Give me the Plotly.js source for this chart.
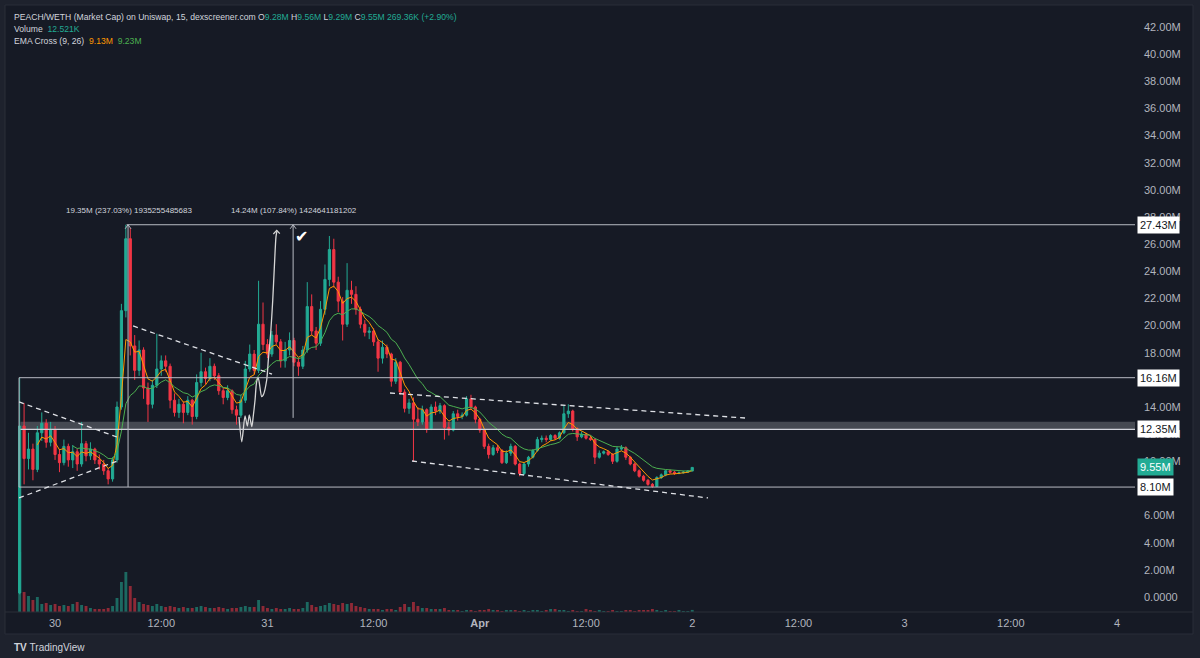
<!DOCTYPE html>
<html><head><meta charset="utf-8">
<script src="https://cdn.plot.ly/plotly-3.0.1.min.js"></script>
<style>html,body{margin:0;padding:0;background:#1e222d;}#chart{width:1200px;height:658px;}</style>
</head><body><div id="chart"></div>
<script>
// ---- data (30-minute candles, values in millions of USD market cap) ----
const startTime = Date.UTC(2025, 2, 29, 20, 0);
const intervalMinutes = 30;

const opens = [0.3,12.6,10.2,10.9,9.4,12.1,12.8,11.4,12.3,10.5,
9.9,11.1,10.1,10.7,9.8,11.3,10.4,10.9,10.1,9.8,
9.3,8.7,10.1,14.0,21.1,26.4,18.5,16.7,18.2,15.4,
14.2,15.6,16.8,17.4,17.0,14.5,13.6,14.2,13.6,14.5,
13.3,15.8,16.6,16.1,17.0,16.3,15.2,14.7,15.2,13.8,
13.4,14.5,16.8,17.9,16.7,20.1,18.6,17.9,19.3,18.8,
17.4,18.2,18.9,17.3,17.0,18.2,21.4,19.6,18.7,21.2,
23.4,25.6,23.2,21.8,20.1,22.6,22.3,21.2,20.1,19.5,
19.6,18.8,17.6,18.4,17.9,15.9,17.3,15.1,13.9,14.3,
13.1,12.9,13.8,12.4,14.0,13.7,14.1,12.5,12.3,13.5,
13.3,13.4,14.6,14.0,13.1,12.3,11.1,10.5,11.0,10.8,
9.9,10.6,11.1,9.8,9.1,9.8,10.3,10.8,11.6,11.7,
11.6,11.9,11.7,12.1,13.5,13.7,12.4,11.8,12.0,11.7,
11.6,10.3,10.6,10.7,10.5,10.0,10.9,11.0,10.3,9.8,
9.3,8.9,8.6,8.3,8.15,8.8,9.0,9.3,9.2,9.1,
9.15,9.2,9.28];
const highs = [16.16,14.3,12.1,11.3,12.6,13.6,13.1,12.9,12.6,10.9,
11.6,11.3,11.2,10.9,12.9,11.5,11.4,11.0,10.5,10.1,
9.5,10.3,14.4,21.6,27.43,27.2,19.3,18.9,18.4,15.8,
16.0,19.4,17.8,17.8,17.2,15.0,14.6,14.4,14.8,14.6,
16.4,18.0,16.9,17.6,17.2,16.5,15.4,15.6,15.3,14.1,
14.9,17.4,18.6,18.2,23.3,21.7,19.0,19.6,20.1,19.0,
18.8,19.5,19.1,17.6,18.5,23.2,22.3,19.9,21.8,24.5,
26.6,26.4,23.6,22.1,24.6,23.3,22.9,21.4,20.4,19.9,
19.8,19.0,18.9,18.6,18.0,17.6,17.4,15.3,14.6,14.7,
14.0,14.1,13.9,14.2,14.4,14.3,14.2,12.9,13.7,13.8,
13.6,14.8,14.9,14.1,13.2,12.4,11.3,11.2,11.2,10.9,
10.8,11.3,11.2,9.9,9.9,10.4,10.9,11.8,11.9,11.9,
12.0,12.0,12.2,14.1,14.2,13.8,12.5,12.2,12.1,11.9,
11.7,10.8,10.8,10.8,10.6,11.1,11.2,11.1,10.4,9.9,
9.4,9.0,8.7,8.4,8.9,9.1,9.35,9.4,9.3,9.25,
9.3,9.35,9.56];
const lows = [0.2,8.3,9.4,8.6,9.2,11.5,11.0,11.1,10.1,9.2,
9.7,9.6,9.5,9.3,9.6,10.0,10.1,9.8,9.4,9.0,
8.3,8.5,9.9,13.8,20.6,17.8,16.0,16.3,14.6,12.9,
13.9,15.4,16.3,16.6,13.9,13.3,13.2,12.8,13.4,12.7,
13.1,15.5,15.7,15.9,16.0,14.9,14.2,14.5,13.5,12.7,
13.2,14.3,16.6,16.4,16.5,18.2,17.6,17.7,18.6,16.9,
16.9,17.8,17.0,16.3,16.8,18.0,19.3,18.2,18.5,20.8,
22.9,22.8,21.0,18.9,19.9,21.6,20.8,19.8,19.2,19.0,
18.5,16.6,17.2,17.6,15.5,15.7,14.9,13.6,13.5,10.0,
12.6,12.7,12.1,12.3,13.4,13.5,11.6,11.9,12.2,13.0,
13.1,13.3,13.8,12.8,12.1,10.9,10.2,10.4,10.6,9.8,
9.8,10.4,9.7,8.9,9.0,9.6,10.2,10.7,11.4,11.4,
11.5,11.6,11.6,12.0,13.2,12.2,11.5,11.7,11.6,11.5,
9.8,10.2,10.5,10.4,9.8,9.9,10.8,10.1,9.7,9.2,
8.8,8.5,8.2,8.05,8.1,8.7,8.9,9.1,9.0,9.05,
9.1,9.15,9.27];
const closes = [12.6,10.2,10.9,9.4,12.1,12.8,11.4,12.3,10.5,9.9,
11.1,10.1,10.7,9.8,11.3,10.4,10.9,10.1,9.8,9.3,
8.7,10.1,14.0,21.1,26.4,18.5,16.7,18.2,15.4,14.2,
15.6,16.8,17.4,17.0,14.5,13.6,14.2,13.6,14.5,13.3,
15.8,16.6,16.1,17.0,16.3,15.2,14.7,15.2,13.8,13.4,
14.5,16.8,17.9,16.7,20.1,18.6,17.9,19.3,18.8,17.4,
18.2,18.9,17.3,17.0,18.2,21.4,19.6,18.7,21.2,23.4,
25.6,23.2,21.8,20.1,22.6,22.3,21.2,20.1,19.5,19.6,
18.8,17.6,18.4,17.9,15.9,17.3,15.1,13.9,14.3,13.1,
12.9,13.8,12.4,14.0,13.7,14.1,12.5,12.3,13.5,13.3,
13.4,14.6,14.0,13.1,12.3,11.1,10.5,11.0,10.8,9.9,
10.6,11.1,9.8,9.1,9.8,10.3,10.8,11.6,11.7,11.6,
11.9,11.7,12.1,13.5,13.7,12.4,11.8,12.0,11.7,11.6,
10.3,10.6,10.7,10.5,10.0,10.9,11.0,10.3,9.8,9.3,
8.9,8.6,8.3,8.15,8.8,9.0,9.3,9.2,9.1,9.15,
9.2,9.28,9.55];
const volumesK = [720,240,192,144,180,96,108,84,96,72,84,72,96,120,84,72,48,36,36,36,48,72,
168,360,480,312,168,120,96,84,72,96,72,60,72,60,48,60,48,48,60,72,60,48,48,60,
48,36,48,48,60,72,60,60,144,72,48,36,48,36,36,48,36,36,48,120,84,60,72,84,
108,96,84,108,96,108,72,60,48,36,36,36,24,36,36,24,60,96,60,120,72,48,48,36,36,36,48,24,
24,24,12,24,24,12,24,24,36,24,24,12,24,24,24,12,24,12,24,24,
12,24,36,36,24,24,12,24,12,12,36,24,12,24,12,12,24,12,12,24,
24,12,24,24,24,36,24,12,24,12,12,24,12,12,25];

const dateTickVals = ['2025-03-30 00:00','2025-03-30 12:00','2025-03-31 00:00','2025-03-31 12:00','2025-04-01 00:00','2025-04-01 12:00','2025-04-02 00:00','2025-04-02 12:00','2025-04-03 00:00','2025-04-03 12:00','2025-04-04 00:00'];
const dateTickText = ['30','12:00','31','12:00','<b>Apr</b>','12:00','2','12:00','3','12:00','4'];
// 8.00M and 16.00M sit fully behind the 8.10M / 16.16M price boxes in the reference
const priceTickVals = [0,2,4,6,10,12,14,18,20,22,24,26,28,30,32,34,36,38,40,42];
const priceTickText = ['0.0000','2.00M','4.00M','6.00M','10.00M','12.00M','14.00M','18.00M','20.00M','22.00M','24.00M','26.00M','28.00M','30.00M','32.00M','34.00M','36.00M','38.00M','40.00M','42.00M'];

// freehand sketch drawn on the chart
const sketchTimes = ['2025-03-30 20:47','2025-03-30 21:06','2025-03-30 21:28','2025-03-30 21:44','2025-03-30 21:57','2025-03-30 22:14','2025-03-30 22:24','2025-03-30 22:36','2025-03-30 22:47','2025-03-30 22:58','2025-03-30 23:21','2025-03-30 23:32','2025-03-30 23:55','2025-03-31 00:06','2025-03-31 00:22','2025-03-31 00:36','2025-03-31 00:47','2025-03-31 00:58','2025-03-31 01:05'];
const sketchPrices = [13.26,11.44,13.34,12.60,13.41,12.55,13.34,14.52,15.87,16.14,14.76,14.89,15.99,17.47,19.45,21.89,24.34,26.55,26.99];

// ---- build ----
const pad = n => String(n).padStart(2,'0');
const fmt = ms => { const d = new Date(ms); return d.getUTCFullYear()+'-'+pad(d.getUTCMonth()+1)+'-'+pad(d.getUTCDate())+' '+pad(d.getUTCHours())+':'+pad(d.getUTCMinutes()); };
const times = closes.map((_, i) => fmt(startTime + i*intervalMinutes*60000));

const X0 = '2025-03-29 18:41', X1 = '2025-04-04 02:02';
const UP = '#22ab94', DN = '#f23645';

function ema(vals, n, showFrom) {
  const a = 1 - Math.pow(1 - 2/(n+1), 2); // 15-min EMA expressed on 30-min bars
  let e = vals[0];
  return vals.map((v, i) => { e = i === 0 ? v : a*v + (1-a)*e; return i < showFrom ? null : e; });
}
const ema9 = ema(closes, 9, 4);
const ema26 = ema(closes, 26, 12);
const volColors = closes.map((c, i) => c >= opens[i] ? 'rgba(34,171,148,0.55)' : 'rgba(242,54,69,0.55)');

const traces = [
  {type:'bar', x:times, y:volumesK, yaxis:'y2', marker:{color:volColors, line:{width:0}}, hoverinfo:'skip'},
  {type:'candlestick', x:times, open:opens, high:highs, low:lows, close:closes,
   increasing:{line:{color:UP, width:1}, fillcolor:UP},
   decreasing:{line:{color:DN, width:1}, fillcolor:DN}, whiskerwidth:0, hoverinfo:'skip'},
  {type:'scatter', mode:'lines', x:times, y:ema9, line:{color:'#ff9800', width:1}, hoverinfo:'skip'},
  {type:'scatter', mode:'lines', x:times, y:ema26, line:{color:'#4caf50', width:1}, hoverinfo:'skip'},
  {type:'scatter', mode:'lines', x:sketchTimes, y:sketchPrices, line:{color:'#d6d6d6', width:1.3, shape:'spline', smoothing:0.7}, hoverinfo:'skip'},
  {type:'scatter', mode:'lines', x:['2025-03-31 00:40','2025-03-31 01:03','2025-03-31 01:24'], y:[26.75,27.02,26.78], line:{color:'#d6d6d6', width:1.2}, hoverinfo:'skip'},
  {type:'scatter', mode:'lines', x:['2025-03-30 07:55','2025-03-30 08:15','2025-03-30 08:35'], y:[27.13,27.43,27.13], line:{color:'#b2b5be', width:1}, hoverinfo:'skip'},
  {type:'scatter', mode:'lines', x:['2025-03-31 02:34','2025-03-31 02:54','2025-03-31 03:14'], y:[27.13,27.43,27.13], line:{color:'#b2b5be', width:1}, hoverinfo:'skip'}
];

const LINE = '#b8bbc3';
const DASH = {color:'#dfe1e6', width:1.3, dash:'5px,4px'};
const shapes = [
  {type:'rect', xref:'paper', yref:'paper', x0:-0.00266, x1:1.05146, y0:-0.0364, y1:1.00497, fillcolor:'#161a25', line:{color:'#2a2e39', width:1}, layer:'below'},
  {type:'line', xref:'paper', yref:'paper', x0:-0.00266, x1:1.05146, y0:0, y1:0, line:{color:'#2a2e39', width:1}},
  {type:'rect', xref:'x', yref:'y', x0:'2025-03-29 20:05', x1:X1, y0:12.35, y1:12.92, fillcolor:'rgba(178,181,190,0.30)', line:{width:0}, layer:'below'},
  {type:'line', xref:'x', yref:'y', x0:'2025-03-29 20:05', x1:X1, y0:12.35, y1:12.35, line:{color:'#d1d4dc', width:1.2}},
  {type:'line', xref:'x', yref:'y', x0:'2025-03-29 19:56', x1:X1, y0:16.16, y1:16.16, line:{color:LINE, width:1}},
  {type:'line', xref:'x', yref:'y', x0:'2025-03-29 19:56', x1:X1, y0:8.10, y1:8.10, line:{color:LINE, width:1}},
  {type:'line', xref:'x', yref:'y', x0:'2025-03-30 08:05', x1:X1, y0:27.43, y1:27.43, line:{color:LINE, width:1}},
  {type:'line', xref:'x', yref:'y', x0:'2025-03-29 19:56', x1:'2025-03-29 19:56', y0:8.10, y1:16.16, line:{color:LINE, width:1}},
  {type:'line', xref:'x', yref:'y', x0:'2025-03-30 08:15', x1:'2025-03-30 08:15', y0:8.10, y1:27.43, line:{color:LINE, width:1}},
  {type:'line', xref:'x', yref:'y', x0:'2025-03-31 02:54', x1:'2025-03-31 02:54', y0:13.2, y1:27.43, line:{color:LINE, width:1}},
  {type:'line', xref:'x', yref:'y', x0:'2025-03-29 19:56', x1:'2025-03-30 07:00', y0:14.37, y1:11.79, line:DASH},
  {type:'line', xref:'x', yref:'y', x0:'2025-03-29 19:56', x1:'2025-03-30 07:21', y0:7.30, y1:10.10, line:DASH},
  {type:'line', xref:'x', yref:'y', x0:'2025-03-30 08:49', x1:'2025-03-31 00:31', y0:19.97, y1:16.43, line:DASH},
  {type:'line', xref:'x', yref:'y', x0:'2025-03-31 13:51', x1:'2025-04-02 05:58', y0:15.03, y1:13.19, line:DASH},
  {type:'line', xref:'x', yref:'y', x0:'2025-03-31 16:20', x1:'2025-04-02 01:47', y0:10.02, y1:7.30, line:DASH}
];

const FONT = 'Liberation Sans, Arial, sans-serif';
const g = s => '<span style="color:#22ab94">'+s+'</span>';
const box = (y, text, bg, fg) => ({xref:'paper', yref:'y', x:1, y:y, xanchor:'left', yanchor:'middle', xshift:2, text:text, showarrow:false, bgcolor:bg, borderpad:2, font:{family:FONT, size:11, color:fg}});
const annotations = [
  {xref:'paper', yref:'paper', x:0.0036, y:0.985, xanchor:'left', yanchor:'middle', showarrow:false, align:'left',
   font:{family:FONT, size:8.6, color:'#d1d4dc'},
   text:'PEACH/WETH (Market Cap) on Uniswap, 15, dexscreener.com\u00a0O'+g('9.28M')+'\u00a0H'+g('9.56M')+'\u00a0L'+g('9.29M')+'\u00a0C'+g('9.55M')+'\u00a0'+g('269.36K (+2.90%)')},
  {xref:'paper', yref:'paper', x:0.0036, y:0.965, xanchor:'left', yanchor:'middle', showarrow:false,
   font:{family:FONT, size:8.6, color:'#d1d4dc'}, text:'Volume\u00a0\u00a0'+g('12.521K')},
  {xref:'paper', yref:'paper', x:0.0036, y:0.945, xanchor:'left', yanchor:'middle', showarrow:false,
   font:{family:FONT, size:8.6, color:'#d1d4dc'}, text:'EMA Cross (9, 26)\u00a0\u00a0<span style="color:#ff9800">9.13M</span>\u00a0\u00a0<span style="color:#4caf50">9.23M</span>'},
  {xref:'x', yref:'y', x:'2025-03-30 08:22', y:28.45, showarrow:false, font:{family:FONT, size:8, color:'#d1d4dc'}, text:'19.35M (237.03%) 1935255485683'},
  {xref:'x', yref:'y', x:'2025-03-31 02:58', y:28.45, showarrow:false, font:{family:FONT, size:8, color:'#d1d4dc'}, text:'14.24M (107.84%) 1424641181202'},
  {xref:'x', yref:'y', x:'2025-03-31 03:48', y:26.6, showarrow:false, font:{family:'DejaVu Sans', size:16, color:'#ffffff'}, text:'\u2714'},
  box(27.43, '27.43M', '#ffffff', '#131722'),
  box(16.16, '16.16M', '#ffffff', '#131722'),
  box(12.35, '12.35M', '#ffffff', '#131722'),
  box(9.55, '9.55M', UP, '#ffffff'),
  box(8.10, '8.10M', '#ffffff', '#131722'),
  {xref:'paper', yref:'paper', x:0.0036, y:-0.058, xanchor:'left', yanchor:'middle', showarrow:false,
   font:{family:FONT, size:10, color:'#d1d4dc'}, text:'<b>TV</b>\u00a0TradingView'}
];

const layout = {
  width:1200, height:658, margin:{l:8, r:65, t:8, b:46},
  paper_bgcolor:'#1e222d', plot_bgcolor:'rgba(0,0,0,0)',
  showlegend:false, hovermode:false, bargap:0.35,
  xaxis:{type:'date', range:[X0, X1], showgrid:false, zeroline:false, showline:false, ticks:'',
         tickvals:dateTickVals, ticktext:dateTickText, tickfont:{family:FONT, size:11, color:'#b2b5be'},
         rangeslider:{visible:false}, fixedrange:true, ticklabelstandoff:3},
  yaxis:{side:'right', range:[-1.105, 43.4], showgrid:false, zeroline:false, showline:false, ticks:'',
         tickvals:priceTickVals, ticktext:priceTickText, tickfont:{family:FONT, size:11, color:'#b2b5be'},
         fixedrange:true, ticklabelstandoff:8},
  yaxis2:{overlaying:'y', range:[0, 7248], visible:false, fixedrange:true},
  shapes:shapes, annotations:annotations
};
Plotly.newPlot('chart', traces, layout, {displayModeBar:false, staticPlot:true});
</script></body></html>
